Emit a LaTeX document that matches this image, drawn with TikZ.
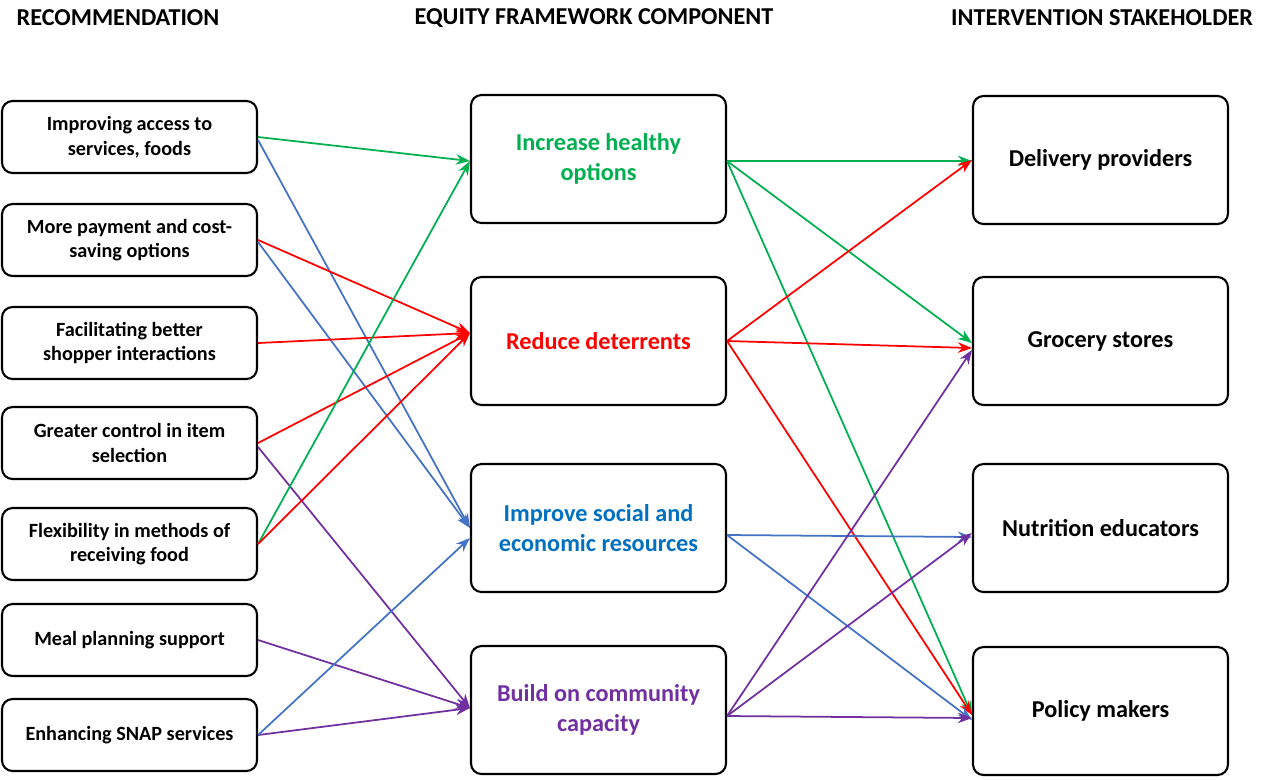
\documentclass[tikz,border=0pt]{standalone}
\usepackage{fontspec}
\setmainfont{Carlito}
\usetikzlibrary{calc,arrows.meta}
\definecolor{cg}{RGB}{0,176,80}
\definecolor{cr}{RGB}{255,0,0}
\definecolor{cb}{RGB}{68,114,196}
\definecolor{cbt}{RGB}{0,112,192}
\definecolor{cp}{RGB}{112,48,160}
\begin{document}
\begin{tikzpicture}[x=0.02cm,y=-0.02cm,
 box/.style={draw,line width=1.2pt,rounded corners=6pt,align=center,font=\bfseries\fontsize{11.5}{14}\selectfont},
 lbox/.style={box,minimum width=255*0.02cm,minimum height=72*0.02cm},
 mbox/.style={box,minimum width=255*0.02cm,minimum height=128*0.02cm,font=\bfseries\fontsize{13.8}{17}\selectfont},
 hd/.style={font=\bfseries\fontsize{13.8}{16}\selectfont},
 ar/.style={-{Stealth[length=8pt,width=6pt]},line width=1pt}]
\useasboundingbox (0,0) rectangle (1280,779);
\node[hd] (h1) at (118,18) {RECOMMENDATION};
\node[hd] (h2) at (594,18) {EQUITY FRAMEWORK COMPONENT};
\node[hd] (h3) at (1102,18) {INTERVENTION STAKEHOLDER};
\node[lbox] (L1) at (129.5,137) {Improving access to\\services, foods};
\node[lbox] (L2) at (129.5,240) {More payment and cost-\\saving options};
\node[lbox] (L3) at (129.5,343) {Facilitating better\\shopper interactions};
\node[lbox] (L4) at (129.5,443) {Greater control in item\\selection};
\node[lbox] (L5) at (129.5,544) {Flexibility in methods of\\receiving food};
\node[lbox] (L6) at (129.5,640) {Meal planning support};
\node[lbox] (L7) at (129.5,735) {Enhancing SNAP services};
\node[mbox,text=cg] (M1) at (598.5,159) {Increase healthy\\options};
\node[mbox,text=cr] (M2) at (598.5,341) {Reduce deterrents};
\node[mbox,text=cbt] (M3) at (598.5,528) {Improve social and\\economic resources};
\node[mbox,text=cp] (M4) at (598.5,710) {Build on community\\capacity};
\node[mbox] (R1) at (1100.5,160) {Delivery providers};
\node[mbox] (R2) at (1100.5,341) {Grocery stores};
\node[mbox] (R3) at (1100.5,528) {Nutrition educators};
\node[mbox] (R4) at (1100.5,711) {Policy makers};
% left to middle
\draw[ar,cg] (L1.east) -- ($(M1.west)+(0,2)$);
\draw[ar,cb] ($(L1.east)+(0,3)$) -- (M3.west);
\draw[ar,cr] (L2.east) -- ($(M2.west)+(0,-8)$);
\draw[ar,cb] ($(L2.east)+(0,2)$) -- (M3.west);
\draw[ar,cr] (L3.east) -- ($(M2.west)+(0,-8)$);
\draw[ar,cr] (L4.east) -- ($(M2.west)+(0,-8)$);
\draw[ar,cp] ($(L4.east)+(0,4)$) -- ($(M4.west)+(0,-2)$);
\draw[ar,cg] (L5.east) -- ($(M1.west)+(0,2)$);
\draw[ar,cr] (L5.east) -- ($(M2.west)+(0,-8)$);
\draw[ar,cp] (L6.east) -- ($(M4.west)+(0,-2)$);
\draw[ar,cp] (L7.east) -- ($(M4.west)+(0,-2)$);
\draw[ar,cb] (L7.east) -- ($(M3.west)+(0,10)$);
% middle to right
\draw[ar,cg] ($(M1.east)+(0,2)$) -- ($(R1.west)+(0,1)$);
\draw[ar,cg] ($(M1.east)+(0,2)$) -- ($(R2.west)+(0,2)$);
\draw[ar,cg] ($(M1.east)+(0,2)$) -- ($(R4.west)+(0,4)$);
\draw[ar,cr] (M2.east) -- ($(R1.west)+(0,0)$);
\draw[ar,cr] (M2.east) -- ($(R2.west)+(0,7)$);
\draw[ar,cr] (M2.east) -- ($(R4.west)+(0,4)$);
\draw[ar,cb] ($(M3.east)+(0,7)$) -- ($(R3.west)+(0,9)$);
\draw[ar,cb] ($(M3.east)+(0,7)$) -- ($(R4.west)+(0,9)$);
\draw[ar,cp] ($(M4.east)+(0,6)$) -- ($(R2.west)+(0,9)$);
\draw[ar,cp] ($(M4.east)+(0,6)$) -- ($(R3.west)+(0,5)$);
\draw[ar,cp] ($(M4.east)+(0,6)$) -- ($(R4.west)+(0,7)$);
\end{tikzpicture}
\end{document}
